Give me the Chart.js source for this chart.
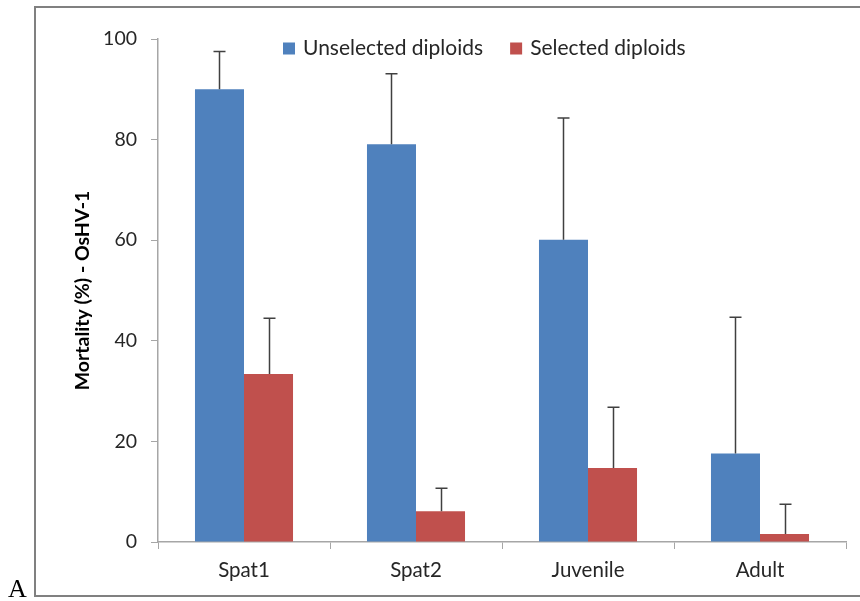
<!DOCTYPE html>
<html>
<head>
<meta charset="utf-8">
<script src="https://cdn.jsdelivr.net/npm/chart.js@4/dist/chart.umd.min.js"></script>
<style>
  html, body { margin: 0; padding: 0; background: #ffffff; }
  #wrap { width: 860px; height: 601px; position: relative; }
</style>
</head>
<body>
<div id="wrap"><canvas id="chart" width="860" height="601"></canvas></div>
<script>
// Mortality (%) after OsHV-1 exposure, by life stage
const categories = ['Spat1', 'Spat2', 'Juvenile', 'Adult'];
const seriesNames = ['Unselected diploids', 'Selected diploids'];
const unselected = [90.0, 79.1, 60.1, 17.6];
const unselectedErr = [7.5, 14.0, 24.2, 27.1];
const selected = [33.4, 6.1, 14.7, 1.6];
const selectedErr = [11.1, 4.6, 12.1, 5.9];
const yTicks = [0, 20, 40, 60, 80, 100];
const axisTitle = 'Mortality (%) - OsHV-1';
const panelLetter = 'A';

const BLUE = '#4F81BD';
const RED = '#C0504D';
const AXIS = '#A6A6A6';
const TEXT = '#262626';
const FONT = 'Lato, "Open Sans", sans-serif';

// Frame around the chart, white background and panel letter
const framePlugin = {
  id: 'frame',
  beforeDraw(chart) {
    const ctx = chart.ctx;
    ctx.save();
    ctx.fillStyle = '#ffffff';
    ctx.fillRect(0, 0, chart.width, chart.height);
    ctx.strokeStyle = '#808080';
    ctx.lineWidth = 2;
    ctx.strokeRect(35, 7, 840, 589);
    ctx.restore();
  },
  afterDraw(chart) {
    const ctx = chart.ctx;
    ctx.save();
    ctx.fillStyle = '#000000';
    ctx.font = '26px "Liberation Serif", "Times New Roman", serif';
    ctx.textBaseline = 'alphabetic';
    ctx.textAlign = 'left';
    ctx.fillText(panelLetter, 8, 597);
    ctx.restore();
  }
};

// Upper error bars (mean + SD) drawn from the bar elements
const errorBarPlugin = {
  id: 'errorBars',
  afterDatasetsDraw(chart) {
    const ctx = chart.ctx;
    const yScale = chart.scales.y;
    ctx.save();
    ctx.strokeStyle = '#404040';
    ctx.lineWidth = 1.5;
    chart.data.datasets.forEach((ds, di) => {
      const meta = chart.getDatasetMeta(di);
      meta.data.forEach((bar, i) => {
        const top = yScale.getPixelForValue(ds.data[i] + ds.errors[i]);
        const x = Math.round(bar.x) + 0.5;
        ctx.beginPath();
        ctx.moveTo(x, bar.y);
        ctx.lineTo(x, top);
        ctx.moveTo(x - 6, top);
        ctx.lineTo(x + 6, top);
        ctx.stroke();
      });
    });
    ctx.restore();
  }
};

// Legend inside the plot, near the top
const legendPlugin = {
  id: 'insideLegend',
  afterDraw(chart) {
    const ctx = chart.ctx;
    ctx.save();
    ctx.font = '21px ' + FONT;
    ctx.textBaseline = 'middle';
    ctx.textAlign = 'left';
    let x = 283;
    const yMid = 48.5;
    chart.data.datasets.forEach((ds) => {
      ctx.fillStyle = ds.backgroundColor;
      ctx.fillRect(x, yMid - 6, 12, 12);
      ctx.fillStyle = TEXT;
      ctx.fillText(ds.label, x + 20, yMid);
      x += 20 + ctx.measureText(ds.label).width + 27;
    });
    ctx.restore();
  }
};

new Chart(document.getElementById('chart'), {
  type: 'bar',
  data: {
    labels: categories,
    datasets: [
      { label: seriesNames[0], data: unselected, errors: unselectedErr, backgroundColor: BLUE },
      { label: seriesNames[1], data: selected, errors: selectedErr, backgroundColor: RED }
    ]
  },
  options: {
    responsive: false,
    animation: false,
    devicePixelRatio: 1,
    layout: { padding: { left: 36, right: 14, top: 39, bottom: 0 } },
    datasets: {
      bar: { categoryPercentage: 0.57, barPercentage: 1.0 }
    },
    plugins: {
      legend: { display: false },
      tooltip: { enabled: false }
    },
    scales: {
      x: {
        grid: { display: true, drawOnChartArea: false, drawTicks: true, tickLength: 7, color: AXIS, offset: true },
        border: { display: true, color: AXIS, width: 1.5 },
        ticks: { color: TEXT, font: { family: FONT, size: 20.5 }, padding: 9 },
        afterFit(scale) { scale.height = 59; }
      },
      y: {
        min: 0,
        max: 100,
        afterBuildTicks(scale) { scale.ticks = yTicks.map(v => ({ value: v })); },
        grid: { display: true, drawOnChartArea: false, drawTicks: true, tickLength: 7, color: AXIS },
        border: { display: true, color: AXIS, width: 1.5 },
        ticks: { color: TEXT, font: { family: FONT, size: 19.5 }, padding: 14 },
        title: {
          display: true,
          text: axisTitle,
          color: '#000000',
          font: { family: FONT, size: 19.5, weight: 'bold' },
          padding: { top: 35, bottom: 0 }
        },
        afterFit(scale) { scale.width = 122; }
      }
    }
  },
  plugins: [framePlugin, errorBarPlugin, legendPlugin]
});
</script>
</body>
</html>
